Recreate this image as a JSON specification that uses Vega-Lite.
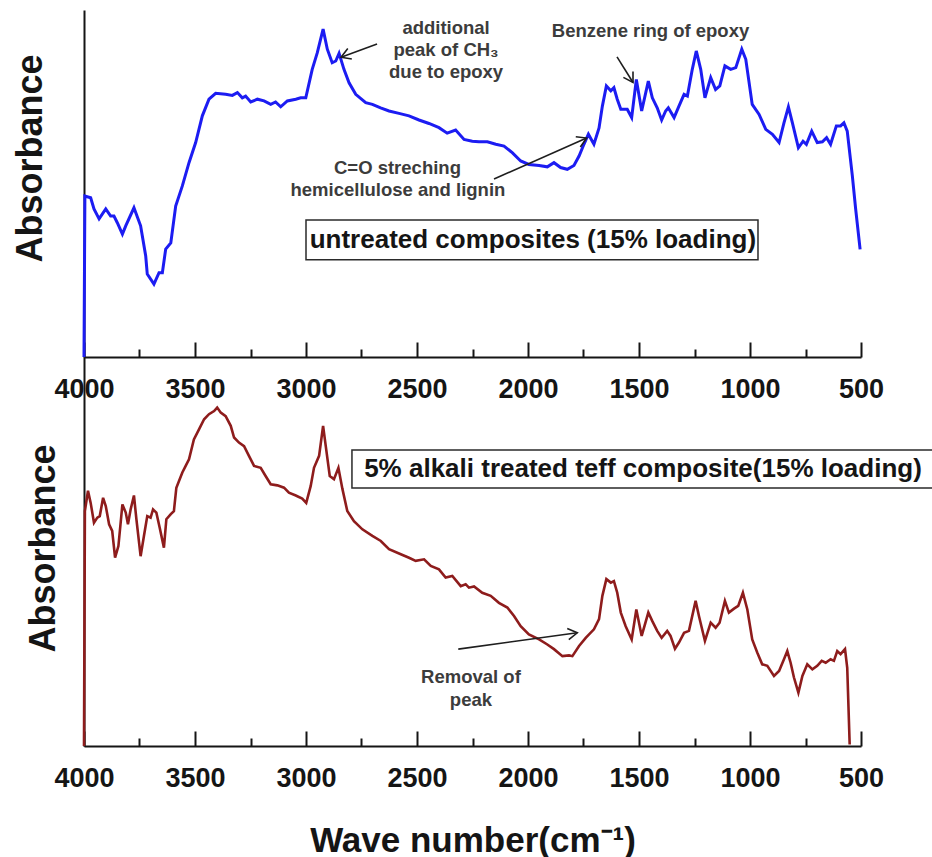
{
  "$schema": "https://vega.github.io/schema/vega-lite/v6.json",
  "background": "white",
  "padding": {"left": 11, "top": 10, "right": 0, "bottom": 0},
  "config": {
    "view": {"stroke": null},
    "font": "Liberation Sans",
    "axis": {"grid": false}
  },
  "datasets": {
    "untreated": [
      {"wn": 4000, "abs": 0}, {"wn": 3996, "abs": 46.4}, {"wn": 3970, "abs": 45.9}, {"wn": 3955, "abs": 42.7},
      {"wn": 3932, "abs": 39.8}, {"wn": 3902, "abs": 42.7}, {"wn": 3880, "abs": 40.6}, {"wn": 3865, "abs": 40.6},
      {"wn": 3850, "abs": 38.7}, {"wn": 3827, "abs": 35.4}, {"wn": 3812, "abs": 37.8}, {"wn": 3775, "abs": 43.0},
      {"wn": 3745, "abs": 37.8}, {"wn": 3722, "abs": 29.1}, {"wn": 3715, "abs": 23.9}, {"wn": 3685, "abs": 21.0},
      {"wn": 3662, "abs": 24.3}, {"wn": 3647, "abs": 24.3}, {"wn": 3632, "abs": 31.1}, {"wn": 3609, "abs": 32.9},
      {"wn": 3587, "abs": 43.5}, {"wn": 3557, "abs": 49.3}, {"wn": 3527, "abs": 56.0}, {"wn": 3497, "abs": 61.8},
      {"wn": 3467, "abs": 69.5}, {"wn": 3437, "abs": 74.3}, {"wn": 3407, "abs": 76.0}, {"wn": 3362, "abs": 75.7},
      {"wn": 3332, "abs": 75.4}, {"wn": 3309, "abs": 76.2}, {"wn": 3287, "abs": 74.7}, {"wn": 3272, "abs": 75.2},
      {"wn": 3249, "abs": 73.5}, {"wn": 3219, "abs": 74.3}, {"wn": 3189, "abs": 73.8}, {"wn": 3159, "abs": 72.8},
      {"wn": 3137, "abs": 73.5}, {"wn": 3114, "abs": 72.1}, {"wn": 3084, "abs": 73.8}, {"wn": 3046, "abs": 74.3},
      {"wn": 3024, "abs": 74.7}, {"wn": 3001, "abs": 74.7}, {"wn": 2972, "abs": 82.9}, {"wn": 2949, "abs": 87.7},
      {"wn": 2923, "abs": 94.5}, {"wn": 2904, "abs": 88.7}, {"wn": 2882, "abs": 84.8}, {"wn": 2866, "abs": 85.3},
      {"wn": 2851, "abs": 87.5}, {"wn": 2829, "abs": 82.9}, {"wn": 2806, "abs": 79.0}, {"wn": 2776, "abs": 75.7},
      {"wn": 2731, "abs": 73.3}, {"wn": 2701, "abs": 72.8}, {"wn": 2664, "abs": 71.8}, {"wn": 2626, "abs": 70.9},
      {"wn": 2581, "abs": 70.2}, {"wn": 2536, "abs": 69.5}, {"wn": 2491, "abs": 68.3}, {"wn": 2446, "abs": 67.3},
      {"wn": 2401, "abs": 66.1}, {"wn": 2364, "abs": 64.5}, {"wn": 2326, "abs": 65.4}, {"wn": 2288, "abs": 62.7},
      {"wn": 2251, "abs": 62.2}, {"wn": 2221, "abs": 62.0}, {"wn": 2183, "abs": 62.0}, {"wn": 2145, "abs": 61.3},
      {"wn": 2108, "abs": 60.8}, {"wn": 2071, "abs": 58.9}, {"wn": 2033, "abs": 56.5}, {"wn": 1996, "abs": 55.5},
      {"wn": 1950, "abs": 55.2}, {"wn": 1913, "abs": 54.8}, {"wn": 1883, "abs": 56.0}, {"wn": 1853, "abs": 54.6},
      {"wn": 1823, "abs": 54.1}, {"wn": 1793, "abs": 55.2}, {"wn": 1770, "abs": 57.9}, {"wn": 1748, "abs": 61.3},
      {"wn": 1728, "abs": 64.2}, {"wn": 1703, "abs": 61.3}, {"wn": 1680, "abs": 66.0}, {"wn": 1665, "abs": 72.3},
      {"wn": 1647, "abs": 78.1}, {"wn": 1627, "abs": 76.7}, {"wn": 1613, "abs": 77.6}, {"wn": 1598, "abs": 74.3},
      {"wn": 1582, "abs": 71.4}, {"wn": 1553, "abs": 71.4}, {"wn": 1533, "abs": 69.0}, {"wn": 1512, "abs": 80.0},
      {"wn": 1488, "abs": 70.9}, {"wn": 1458, "abs": 79.5}, {"wn": 1440, "abs": 74.7}, {"wn": 1418, "abs": 71.8},
      {"wn": 1398, "abs": 68.3}, {"wn": 1380, "abs": 70.9}, {"wn": 1368, "abs": 71.8}, {"wn": 1342, "abs": 69.0},
      {"wn": 1320, "abs": 72.3}, {"wn": 1297, "abs": 75.7}, {"wn": 1282, "abs": 75.2}, {"wn": 1260, "abs": 82.9},
      {"wn": 1242, "abs": 88.2}, {"wn": 1222, "abs": 82.9}, {"wn": 1203, "abs": 74.7}, {"wn": 1177, "abs": 80.5},
      {"wn": 1155, "abs": 77.1}, {"wn": 1136, "abs": 78.1}, {"wn": 1113, "abs": 83.9}, {"wn": 1087, "abs": 82.9},
      {"wn": 1064, "abs": 83.4}, {"wn": 1037, "abs": 88.7}, {"wn": 1019, "abs": 85.8}, {"wn": 990, "abs": 72.8},
      {"wn": 959, "abs": 69.9}, {"wn": 929, "abs": 65.6}, {"wn": 899, "abs": 64.2}, {"wn": 869, "abs": 61.8},
      {"wn": 847, "abs": 67.5}, {"wn": 827, "abs": 72.1}, {"wn": 809, "abs": 67.5}, {"wn": 782, "abs": 60.3},
      {"wn": 761, "abs": 62.2}, {"wn": 746, "abs": 61.3}, {"wn": 722, "abs": 65.1}, {"wn": 697, "abs": 61.8},
      {"wn": 674, "abs": 62.0}, {"wn": 655, "abs": 63.2}, {"wn": 637, "abs": 61.3}, {"wn": 611, "abs": 66.6},
      {"wn": 592, "abs": 66.6}, {"wn": 577, "abs": 67.5}, {"wn": 562, "abs": 65.1}, {"wn": 539, "abs": 52.2},
      {"wn": 524, "abs": 42.6}, {"wn": 504, "abs": 31.0}
    ],
    "alkali": [
      {"wn": 4000, "abs": 0}, {"wn": 3996, "abs": 60.4}, {"wn": 3982, "abs": 65.6}, {"wn": 3970, "abs": 62.5},
      {"wn": 3955, "abs": 57.4}, {"wn": 3940, "abs": 58.7}, {"wn": 3929, "abs": 59.1}, {"wn": 3914, "abs": 63.8},
      {"wn": 3902, "abs": 61.7}, {"wn": 3887, "abs": 57.0}, {"wn": 3873, "abs": 55.3}, {"wn": 3860, "abs": 48.4},
      {"wn": 3845, "abs": 51.4}, {"wn": 3827, "abs": 62.1}, {"wn": 3812, "abs": 60.0}, {"wn": 3802, "abs": 57.0},
      {"wn": 3790, "abs": 60.8}, {"wn": 3775, "abs": 64.4}, {"wn": 3764, "abs": 58.3}, {"wn": 3745, "abs": 48.8},
      {"wn": 3730, "abs": 54.0}, {"wn": 3715, "abs": 59.1}, {"wn": 3700, "abs": 58.7}, {"wn": 3689, "abs": 60.8},
      {"wn": 3674, "abs": 60.0}, {"wn": 3659, "abs": 56.1}, {"wn": 3640, "abs": 51.0}, {"wn": 3629, "abs": 58.3},
      {"wn": 3609, "abs": 59.6}, {"wn": 3595, "abs": 60.4}, {"wn": 3584, "abs": 66.4}, {"wn": 3572, "abs": 68.1},
      {"wn": 3557, "abs": 70.3}, {"wn": 3542, "abs": 72.0}, {"wn": 3527, "abs": 73.7}, {"wn": 3505, "abs": 78.8},
      {"wn": 3482, "abs": 81.4}, {"wn": 3459, "abs": 84.0}, {"wn": 3437, "abs": 85.3}, {"wn": 3414, "abs": 86.1},
      {"wn": 3400, "abs": 87.0}, {"wn": 3384, "abs": 85.7}, {"wn": 3362, "abs": 84.8}, {"wn": 3339, "abs": 82.3},
      {"wn": 3324, "abs": 79.3}, {"wn": 3302, "abs": 78.0}, {"wn": 3279, "abs": 77.1}, {"wn": 3257, "abs": 74.6},
      {"wn": 3234, "abs": 72.0}, {"wn": 3204, "abs": 71.5}, {"wn": 3182, "abs": 69.4}, {"wn": 3159, "abs": 67.3},
      {"wn": 3129, "abs": 67.0}, {"wn": 3099, "abs": 66.4}, {"wn": 3077, "abs": 65.1}, {"wn": 3046, "abs": 64.4},
      {"wn": 3017, "abs": 63.6}, {"wn": 2999, "abs": 62.5}, {"wn": 2979, "abs": 66.8}, {"wn": 2964, "abs": 71.5},
      {"wn": 2941, "abs": 74.6}, {"wn": 2923, "abs": 82.3}, {"wn": 2911, "abs": 77.1}, {"wn": 2893, "abs": 69.4},
      {"wn": 2874, "abs": 68.6}, {"wn": 2854, "abs": 71.5}, {"wn": 2836, "abs": 66.1}, {"wn": 2814, "abs": 60.4},
      {"wn": 2784, "abs": 57.8}, {"wn": 2746, "abs": 55.7}, {"wn": 2701, "abs": 54.0}, {"wn": 2663, "abs": 52.7},
      {"wn": 2626, "abs": 50.6}, {"wn": 2573, "abs": 49.3}, {"wn": 2536, "abs": 48.4}, {"wn": 2506, "abs": 47.6},
      {"wn": 2468, "abs": 48.0}, {"wn": 2438, "abs": 46.3}, {"wn": 2401, "abs": 45.4}, {"wn": 2371, "abs": 43.3},
      {"wn": 2341, "abs": 43.7}, {"wn": 2303, "abs": 41.1}, {"wn": 2281, "abs": 41.6}, {"wn": 2266, "abs": 40.7},
      {"wn": 2243, "abs": 41.0}, {"wn": 2206, "abs": 39.4}, {"wn": 2168, "abs": 38.6}, {"wn": 2131, "abs": 36.8},
      {"wn": 2093, "abs": 35.6}, {"wn": 2063, "abs": 33.4}, {"wn": 2033, "abs": 30.8}, {"wn": 1996, "abs": 28.7},
      {"wn": 1950, "abs": 27.4}, {"wn": 1913, "abs": 26.1}, {"wn": 1883, "abs": 24.9}, {"wn": 1845, "abs": 23.1},
      {"wn": 1815, "abs": 23.3}, {"wn": 1800, "abs": 23.1}, {"wn": 1770, "abs": 25.7}, {"wn": 1740, "abs": 27.8},
      {"wn": 1703, "abs": 30.0}, {"wn": 1680, "abs": 32.6}, {"wn": 1665, "abs": 38.6}, {"wn": 1647, "abs": 42.9},
      {"wn": 1627, "abs": 42.0}, {"wn": 1613, "abs": 42.4}, {"wn": 1598, "abs": 39.4}, {"wn": 1582, "abs": 34.3},
      {"wn": 1560, "abs": 30.8}, {"wn": 1533, "abs": 27.4}, {"wn": 1512, "abs": 35.1}, {"wn": 1488, "abs": 28.3},
      {"wn": 1458, "abs": 34.3}, {"wn": 1440, "abs": 32.1}, {"wn": 1418, "abs": 29.6}, {"wn": 1398, "abs": 27.8},
      {"wn": 1373, "abs": 29.6}, {"wn": 1358, "abs": 28.3}, {"wn": 1338, "abs": 25.0}, {"wn": 1320, "abs": 26.6},
      {"wn": 1297, "abs": 29.1}, {"wn": 1275, "abs": 29.6}, {"wn": 1245, "abs": 37.3}, {"wn": 1230, "abs": 33.4},
      {"wn": 1203, "abs": 27.0}, {"wn": 1177, "abs": 31.7}, {"wn": 1155, "abs": 30.4}, {"wn": 1137, "abs": 31.7},
      {"wn": 1113, "abs": 37.3}, {"wn": 1095, "abs": 34.3}, {"wn": 1072, "abs": 35.3}, {"wn": 1053, "abs": 36.0},
      {"wn": 1032, "abs": 39.4}, {"wn": 1012, "abs": 35.1}, {"wn": 990, "abs": 27.4}, {"wn": 967, "abs": 24.0},
      {"wn": 945, "abs": 21.0}, {"wn": 922, "abs": 20.6}, {"wn": 892, "abs": 18.0}, {"wn": 869, "abs": 19.3},
      {"wn": 847, "abs": 22.3}, {"wn": 832, "abs": 24.4}, {"wn": 817, "abs": 21.4}, {"wn": 802, "abs": 17.6},
      {"wn": 782, "abs": 13.7}, {"wn": 764, "abs": 18.0}, {"wn": 742, "abs": 21.0}, {"wn": 719, "abs": 19.7},
      {"wn": 697, "abs": 20.6}, {"wn": 677, "abs": 21.9}, {"wn": 659, "abs": 21.4}, {"wn": 637, "abs": 22.3},
      {"wn": 622, "abs": 21.9}, {"wn": 607, "abs": 24.4}, {"wn": 592, "abs": 23.6}, {"wn": 572, "abs": 24.9},
      {"wn": 562, "abs": 20.1}, {"wn": 551, "abs": 0.4}
    ],
    "notes": [
      {"panel": "top", "wn": 2369, "abs": 93.1, "note": "additional"},
      {"panel": "top", "wn": 2369, "abs": 86.7, "note": "peak of CH₃"},
      {"panel": "top", "wn": 2369, "abs": 80.4, "note": "due to epoxy"},
      {"panel": "top", "wn": 1448, "abs": 92.2, "note": "Benzene ring of epoxy"},
      {"panel": "top", "wn": 2588, "abs": 52.7, "note": "C=O streching"},
      {"panel": "top", "wn": 2586, "abs": 46.4, "note": "hemicellulose and lignin"},
      {"panel": "bottom", "wn": 2257, "abs": 16.2, "note": "Removal of"},
      {"panel": "bottom", "wn": 2257, "abs": 10.3, "note": "peak"}
    ],
    "arrows": [
      {"panel": "top", "id": "ch3", "wn": 2680, "abs": 90.2, "wn2": 2842, "abs2": 86.4},
      {"panel": "top", "id": "benzene", "wn": 1599, "abs": 86.5, "wn2": 1527, "abs2": 79.1},
      {"panel": "top", "id": "co", "wn": 2153, "abs": 51.3, "wn2": 1736, "abs2": 63.1},
      {"panel": "bottom", "id": "removal", "wn": 2314, "abs": 24.9, "wn2": 1778, "abs2": 29.1}
    ],
    "boxes": [
      {"panel": "top", "wnL": 3000, "wnR": 964, "absLo": 28.0, "absHi": 39.5, "wnMid": 1978, "absMid": 33.7, "label": "untreated composites (15% loading)"},
      {"panel": "bottom", "wnL": 2793, "wnR": 150, "absLo": 66.3, "absHi": 76.1, "wnMid": 1482, "absMid": 71.2, "label": "5% alkali treated teff composite(15% loading)"}
    ]
  },
  "vconcat": [
    {
      "width": 777,
      "height": 347,
      "layer": [
        {
          "data": {"name": "untreated"},
          "mark": {"type": "line", "color": "#1c1cf2", "strokeWidth": 3},
          "encoding": {
            "x": {
              "field": "wn", "type": "quantitative",
              "scale": {"domain": [4000, 500], "nice": false, "zero": false},
              "axis": {
                "title": null,
                "values": [4000, 3750, 3500, 3250, 3000, 2750, 2500, 2250, 2000, 1750, 1500, 1250, 1000, 750, 500],
                "format": "d",
                "labelExpr": "datum.value % 500 === 0 ? datum.label : ''",
                "labelFontSize": 27, "labelFontWeight": "bold", "labelColor": "#151515",
                "labelPadding": 34, "labelOverlap": false, "labelFlush": false,
                "domainColor": "#151515", "domainWidth": 2,
                "tickColor": "#151515", "tickWidth": 2,
                "tickSize": {"condition": {"test": "datum.value % 500 === 0", "value": -15}, "value": -8}
              }
            },
            "y": {
              "field": "abs", "type": "quantitative",
              "scale": {"domain": [0, 100], "nice": false},
              "axis": {
                "title": "Absorbance", "labels": false, "ticks": false,
                "domainColor": "#151515", "domainWidth": 2,
                "titleFontSize": 36, "titleFontWeight": "bold", "titleColor": "#151515",
                "titleAngle": -90, "titleBaseline": "alphabetic", "titleAlign": "center",
                "titleX": -43, "titleY": 148
              }
            }
          }
        },
        {
          "data": {"name": "boxes"},
          "transform": [{"filter": "datum.panel === 'top'"}],
          "mark": {"type": "rect", "fill": "transparent", "stroke": "#2a2a2a", "strokeWidth": 1.5},
          "encoding": {
            "x": {"field": "wnL", "type": "quantitative"},
            "x2": {"field": "wnR"},
            "y": {"field": "absLo", "type": "quantitative"},
            "y2": {"field": "absHi"}
          }
        },
        {
          "data": {"name": "boxes"},
          "transform": [{"filter": "datum.panel === 'top'"}],
          "mark": {"type": "text", "fontSize": 26, "fontWeight": "bold", "color": "#151515", "align": "center", "baseline": "middle"},
          "encoding": {
            "x": {"field": "wnMid", "type": "quantitative"},
            "y": {"field": "absMid", "type": "quantitative"},
            "text": {"field": "label"}
          }
        },
        {
          "data": {"name": "notes"},
          "transform": [{"filter": "datum.panel === 'top'"}],
          "mark": {"type": "text", "fontSize": 18.5, "fontWeight": "bold", "color": "#3c3c3c", "align": "center", "baseline": "alphabetic"},
          "encoding": {
            "x": {"field": "wn", "type": "quantitative"},
            "y": {"field": "abs", "type": "quantitative"},
            "text": {"field": "note"}
          }
        },
        {
          "data": {"name": "arrows"},
          "transform": [{"filter": "datum.panel === 'top'"}],
          "mark": {"type": "rule", "color": "#1e1e1e", "strokeWidth": 1.6},
          "encoding": {
            "x": {"field": "wn", "type": "quantitative"},
            "y": {"field": "abs", "type": "quantitative"},
            "x2": {"field": "wn2"},
            "y2": {"field": "abs2"}
          }
        },
        {
          "data": {"name": "arrows"},
          "transform": [{"filter": "datum.id === 'ch3'"}],
          "mark": {"type": "point", "shape": "M-1,-0.6L0,0L-1,0.6", "size": 350, "angle": 159, "filled": false, "stroke": "#1e1e1e", "strokeWidth": 1.6, "opacity": 1},
          "encoding": {
            "x": {"field": "wn2", "type": "quantitative"},
            "y": {"field": "abs2", "type": "quantitative"}
          }
        },
        {
          "data": {"name": "arrows"},
          "transform": [{"filter": "datum.id === 'benzene'"}],
          "mark": {"type": "point", "shape": "M-1,-0.6L0,0L-1,0.6", "size": 350, "angle": 59, "filled": false, "stroke": "#1e1e1e", "strokeWidth": 1.6, "opacity": 1},
          "encoding": {
            "x": {"field": "wn2", "type": "quantitative"},
            "y": {"field": "abs2", "type": "quantitative"}
          }
        },
        {
          "data": {"name": "arrows"},
          "transform": [{"filter": "datum.id === 'co'"}],
          "mark": {"type": "point", "shape": "M-1,-0.6L0,0L-1,0.6", "size": 350, "angle": 336, "filled": false, "stroke": "#1e1e1e", "strokeWidth": 1.6, "opacity": 1},
          "encoding": {
            "x": {"field": "wn2", "type": "quantitative"},
            "y": {"field": "abs2", "type": "quantitative"}
          }
        }
      ]
    },
    {
      "width": 777,
      "height": 389,
      "layer": [
        {
          "data": {"name": "alkali"},
          "mark": {"type": "line", "color": "#8e1c1c", "strokeWidth": 2.6},
          "encoding": {
            "x": {
              "field": "wn", "type": "quantitative",
              "scale": {"domain": [4000, 500], "nice": false, "zero": false},
              "axis": {
                "title": "Wave number(cm⁻¹)",
                "titleFontSize": 35, "titleFontWeight": "bold", "titleColor": "#151515",
                "titleBaseline": "alphabetic", "titleY": 105,
                "values": [4000, 3750, 3500, 3250, 3000, 2750, 2500, 2250, 2000, 1750, 1500, 1250, 1000, 750, 500],
                "format": "d",
                "labelExpr": "datum.value % 500 === 0 ? datum.label : ''",
                "labelFontSize": 27, "labelFontWeight": "bold", "labelColor": "#151515",
                "labelPadding": 34, "labelOverlap": false, "labelFlush": false,
                "domainColor": "#151515", "domainWidth": 2,
                "tickColor": "#151515", "tickWidth": 2,
                "tickSize": {"condition": {"test": "datum.value % 500 === 0", "value": -15}, "value": -8}
              }
            },
            "y": {
              "field": "abs", "type": "quantitative",
              "scale": {"domain": [0, 100], "nice": false},
              "axis": {
                "title": "Absorbance", "labels": false, "ticks": false,
                "domainColor": "#151515", "domainWidth": 2,
                "titleFontSize": 36, "titleFontWeight": "bold", "titleColor": "#151515",
                "titleAngle": -90, "titleBaseline": "alphabetic", "titleAlign": "center",
                "titleX": -30, "titleY": 191
              }
            }
          }
        },
        {
          "data": {"name": "boxes"},
          "transform": [{"filter": "datum.panel === 'bottom'"}],
          "mark": {"type": "rect", "fill": "transparent", "stroke": "#2a2a2a", "strokeWidth": 1.5},
          "encoding": {
            "x": {"field": "wnL", "type": "quantitative"},
            "x2": {"field": "wnR"},
            "y": {"field": "absLo", "type": "quantitative"},
            "y2": {"field": "absHi"}
          }
        },
        {
          "data": {"name": "boxes"},
          "transform": [{"filter": "datum.panel === 'bottom'"}],
          "mark": {"type": "text", "fontSize": 26, "fontWeight": "bold", "color": "#151515", "align": "center", "baseline": "middle"},
          "encoding": {
            "x": {"field": "wnMid", "type": "quantitative"},
            "y": {"field": "absMid", "type": "quantitative"},
            "text": {"field": "label"}
          }
        },
        {
          "data": {"name": "notes"},
          "transform": [{"filter": "datum.panel === 'bottom'"}],
          "mark": {"type": "text", "fontSize": 18.5, "fontWeight": "bold", "color": "#3c3c3c", "align": "center", "baseline": "alphabetic"},
          "encoding": {
            "x": {"field": "wn", "type": "quantitative"},
            "y": {"field": "abs", "type": "quantitative"},
            "text": {"field": "note"}
          }
        },
        {
          "data": {"name": "arrows"},
          "transform": [{"filter": "datum.panel === 'bottom'"}],
          "mark": {"type": "rule", "color": "#1e1e1e", "strokeWidth": 1.6},
          "encoding": {
            "x": {"field": "wn", "type": "quantitative"},
            "y": {"field": "abs", "type": "quantitative"},
            "x2": {"field": "wn2"},
            "y2": {"field": "abs2"}
          }
        },
        {
          "data": {"name": "arrows"},
          "transform": [{"filter": "datum.id === 'removal'"}],
          "mark": {"type": "point", "shape": "M-1,-0.6L0,0L-1,0.6", "size": 350, "angle": 352, "filled": false, "stroke": "#1e1e1e", "strokeWidth": 1.6, "opacity": 1},
          "encoding": {
            "x": {"field": "wn2", "type": "quantitative"},
            "y": {"field": "abs2", "type": "quantitative"}
          }
        }
      ]
    }
  ],
  "spacing": 0,
  "bounds": "flush"
}
